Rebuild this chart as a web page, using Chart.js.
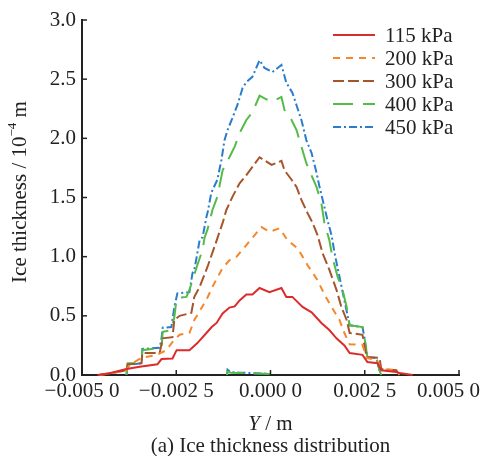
<!DOCTYPE html>
<html><head><meta charset="utf-8">
<script src="https://cdn.jsdelivr.net/npm/chart.js@4"></script>
<style>html,body{margin:0;padding:0;background:#fff}</style>
</head><body>
<canvas id="c" width="483" height="456"></canvas>
<script>
// ---- data ----
const seriesLabels = ['115 kPa','200 kPa','300 kPa','400 kPa','450 kPa'];
const xTickLabels = ['\u22120.005 0','\u22120.002 5','0.000 0','0.002 5','0.005 0'];
const yTickLabels = ['0.0','0.5','1.0','1.5','2.0','2.5','3.0'];

const x115 = [-0.00459,-0.00427,-0.00382,-0.00347,-0.00300,-0.00289,-0.00260,-0.00249,-0.00215,-0.00194,-0.00170,-0.00156,-0.00143,-0.00127,-0.00109,-0.00095,-0.00082,-0.00064,-0.00048,-0.00029,-0.00003,0.00029,0.00042,0.00058,0.00085,0.00109,0.00135,0.00156,0.00175,0.00196,0.00210,0.00244,0.00257,0.00284,0.00294,0.00334,0.00342,0.00377];
const y115 = [0,0.014,0.05,0.07,0.09,0.135,0.14,0.21,0.21,0.27,0.355,0.405,0.44,0.52,0.57,0.58,0.63,0.68,0.68,0.735,0.70,0.735,0.66,0.66,0.575,0.53,0.44,0.38,0.31,0.25,0.185,0.17,0.11,0.10,0.04,0.025,0.017,0];

const x200 = [-0.00454,-0.00419,-0.00393,-0.00382,-0.00374,-0.00342,-0.00302,-0.00276,-0.00255,-0.00241,-0.00215,-0.00202,-0.00170,-0.00154,-0.00127,-0.00109,-0.00090,-0.00074,-0.00048,-0.00024,-0.00003,0.00024,0.00045,0.00072,0.00098,0.00125,0.00143,0.00162,0.00183,0.00196,0.00210,0.00244,0.00255,0.00281,0.00294,0.00334,0.00342];
const y200 = [0,0.017,0.035,0.04,0.085,0.145,0.17,0.21,0.30,0.34,0.355,0.465,0.635,0.745,0.905,0.97,1.00,1.06,1.16,1.25,1.21,1.24,1.14,1.07,0.93,0.80,0.68,0.575,0.465,0.355,0.26,0.255,0.145,0.125,0.05,0.04,0];

const x300 = [-0.00454,-0.00419,-0.00382,-0.00379,-0.00342,-0.00340,-0.00294,-0.00286,-0.00260,-0.00255,-0.00241,-0.00210,-0.00202,-0.00188,-0.00167,-0.00149,-0.00127,-0.00117,-0.00101,-0.00082,-0.00064,-0.00029,0.00003,0.00029,0.00037,0.00056,0.00069,0.00082,0.00098,0.00111,0.00125,0.00138,0.00156,0.00175,0.00188,0.00202,0.00210,0.00244,0.00255,0.00289,0.00294,0.00334,0.00340];
const y300 = [0,0.017,0.04,0.09,0.10,0.185,0.185,0.31,0.32,0.465,0.50,0.525,0.66,0.745,0.915,1.08,1.285,1.395,1.505,1.62,1.69,1.84,1.775,1.81,1.73,1.65,1.59,1.48,1.37,1.29,1.18,1.03,0.89,0.72,0.575,0.465,0.355,0.34,0.15,0.145,0.05,0.04,0];

const x400 = [-0.00382,-0.00379,-0.00342,-0.00340,-0.00289,-0.00286,-0.00263,-0.00255,-0.00249,-0.00223,-0.00215,-0.00207,-0.00194,-0.00180,-0.00175,-0.00167,-0.00154,-0.00141,-0.00127,-0.00109,-0.00095,-0.00082,-0.00064,-0.00048,-0.00029,-0.00011,0.00005,0.00029,0.00037,0.00056,0.00069,0.00082,0.00095,0.00111,0.00122,0.00135,0.00143,0.00156,0.00164,0.00178,0.00191,0.00202,0.00210,0.00244,0.00249,0.00257,0.00281,0.00289,0.00294];
const y400 = [0,0.10,0.10,0.21,0.23,0.365,0.38,0.49,0.65,0.66,0.72,0.80,0.93,1.06,1.16,1.23,1.395,1.505,1.73,1.84,1.93,2.045,2.155,2.22,2.36,2.33,2.31,2.35,2.24,2.155,2.07,1.93,1.79,1.67,1.59,1.45,1.285,1.14,1.00,0.83,0.72,0.575,0.42,0.405,0.32,0.15,0.145,0.04,0];

const x450 = [-0.00382,-0.00379,-0.00342,-0.00340,-0.00294,-0.00289,-0.00286,-0.00263,-0.00255,-0.00247,-0.00215,-0.00207,-0.00202,-0.00194,-0.00188,-0.00180,-0.00170,-0.00167,-0.00157,-0.00141,-0.00130,-0.00122,-0.00114,-0.00103,-0.00088,-0.00074,-0.00064,-0.00048,-0.00029,-0.00016,0.00005,0.00029,0.00042,0.00058,0.00069,0.00082,0.00095,0.00109,0.00122,0.00130,0.00143,0.00151,0.00162,0.00170,0.00183,0.00196,0.00210,0.00244,0.00249,0.00257,0.00281,0.00289,0.00294];
const y450 = [0,0.085,0.10,0.22,0.23,0.31,0.40,0.405,0.575,0.69,0.70,0.86,0.89,1.03,1.14,1.165,1.335,1.37,1.54,1.65,1.82,1.985,2.07,2.155,2.28,2.425,2.475,2.52,2.66,2.595,2.56,2.62,2.47,2.385,2.28,2.155,1.985,1.875,1.71,1.59,1.42,1.31,1.18,1.03,0.83,0.63,0.42,0.405,0.32,0.15,0.145,0.04,0];

// small residual segment near the bottom (400/450 kPa)
const xBase = [-0.00115,-0.00114,-0.00105,-0.00080,-0.00040,-0.00002];
const yBase450 = [0,0.045,0.025,0.02,0.015,0.01];
const yBase400 = [0,0.03,0.02,0.017,0.012,0.008];

// ---- styles ----
const colors = ['#dc2b2b','#f5862a','#a5552c','#55bb48','#2b7ccc'];
const dashes = [[],[7,6],[11,4],[20,10],[8,3,2,3]];
const FS = 21;
const FONT = FS + 'px "Liberation Serif", "Times New Roman", serif';

function pts(xs, ys){ return xs.map((v,i)=>({x:v, y:ys[i]})); }
const allX = [x115,x200,x300,x400,x450];
const allY = [y115,y200,y300,y400,y450];

const datasets = seriesLabels.map((lbl,i)=>({
  label: lbl, data: pts(allX[i], allY[i]),
  borderColor: colors[i], borderDash: dashes[i], borderWidth: 2,
  pointRadius: 0, tension: 0, fill: false, clip: 6
}));
datasets.push({label:'_b400', data: pts(xBase,yBase400), borderColor: colors[3], borderWidth: 2, pointRadius:0, tension:0, clip:6, borderDash:[20,10]});
datasets.push({label:'_b450', data: pts(xBase,yBase450), borderColor: colors[4], borderWidth: 2, pointRadius:0, tension:0, clip:6, borderDash:[8,3,2,3]});

const overlay = {
  id: 'overlay',
  afterDraw(chart){
    const ctx = chart.ctx, a = chart.chartArea, xs = chart.scales.x, ys = chart.scales.y;
    ctx.save();
    ctx.strokeStyle = '#222'; ctx.lineWidth = 1.5; ctx.setLineDash([]);
    ys.ticks.forEach(t=>{
      const py = ys.getPixelForValue(t.value);
      ctx.beginPath(); ctx.moveTo(a.left, py); ctx.lineTo(a.left+5, py); ctx.stroke();
    });
    xs.ticks.forEach(t=>{
      const px = xs.getPixelForValue(t.value);
      ctx.beginPath(); ctx.moveTo(px, a.bottom); ctx.lineTo(px, a.bottom-5); ctx.stroke();
    });
    // x tick labels
    ctx.font = FONT; ctx.fillStyle = '#222'; ctx.textBaseline = 'top'; ctx.textAlign = 'left';
    xs.ticks.forEach((t,i)=>{
      const lbl = xTickLabels[i] || '';
      const w = ctx.measureText(lbl).width;
      let lx = xs.getPixelForValue(t.value) - w/2;
      lx = Math.min(lx, chart.width - 3 - w);
      ctx.fillText(lbl, lx, a.bottom + 6);
    });
    // x axis title: "Y / m"
    ctx.textBaseline = 'middle';
    const cx = (a.left + a.right)/2;
    ctx.font = 'italic ' + FONT; const wY = ctx.measureText('Y').width;
    ctx.font = FONT; const wR = ctx.measureText(' / m').width;
    let sx = cx - (wY + wR)/2;
    ctx.font = 'italic ' + FONT; ctx.fillText('Y', sx, 424);
    ctx.font = FONT; ctx.fillText(' / m', sx + wY, 424);
    // caption
    ctx.textAlign = 'center';
    ctx.fillText('(a) Ice thickness distribution', cx, 446);
    // y axis title (rotated)
    ctx.save();
    ctx.translate(20, 192); ctx.rotate(-Math.PI/2);
    ctx.textAlign = 'left';
    const p1 = 'Ice thickness / 10', p2 = '\u22124', p3 = ' m';
    ctx.font = FONT; const w1 = ctx.measureText(p1).width, w3 = ctx.measureText(p3).width;
    const SUP = '13px "Liberation Serif", serif';
    ctx.font = SUP; const w2 = ctx.measureText(p2).width;
    let tx = -(w1+w2+w3)/2;
    ctx.font = FONT; ctx.fillText(p1, tx, 0);
    ctx.font = SUP; ctx.fillText(p2, tx + w1, -7);
    ctx.font = FONT; ctx.fillText(p3, tx + w1 + w2, 0);
    ctx.restore();
    // legend
    ctx.font = FONT; ctx.textAlign = 'left'; ctx.textBaseline = 'middle';
    seriesLabels.forEach((lbl,i)=>{
      const ly = 35 + i*23;
      ctx.strokeStyle = colors[i]; ctx.lineWidth = 2; ctx.setLineDash(dashes[i]);
      ctx.beginPath(); ctx.moveTo(333, ly); ctx.lineTo(375, ly); ctx.stroke();
      ctx.setLineDash([]);
      ctx.fillStyle = '#222'; ctx.fillText(lbl, 385, ly + 1);
    });
    ctx.restore();
  }
};

new Chart(document.getElementById('c'), {
  type: 'line',
  data: { datasets },
  options: {
    responsive: false, animation: false, devicePixelRatio: 1,
    layout: { padding: { left: 0, top: 20, right: 24, bottom: 81 } },
    plugins: { legend: { display: false }, tooltip: { enabled: false }, title: { display: false } },
    scales: {
      x: {
        type: 'linear', min: -0.005, max: 0.005,
        ticks: { display: false, stepSize: 0.0025 },
        grid: { display: false, drawTicks: false },
        border: { display: true, color: '#222', width: 2 },
        afterFit(s){ s.height = 0; }
      },
      y: {
        min: 0, max: 3,
        ticks: { stepSize: 0.5, padding: 6, color: '#222', font: { family: '"Liberation Serif"', size: FS },
                 callback: (v,i)=>yTickLabels[i] },
        grid: { display: false, drawTicks: false },
        border: { display: true, color: '#222', width: 2 },
        afterFit(s){ s.width = 82; }
      }
    }
  },
  plugins: [overlay]
});
</script>
</body></html>
